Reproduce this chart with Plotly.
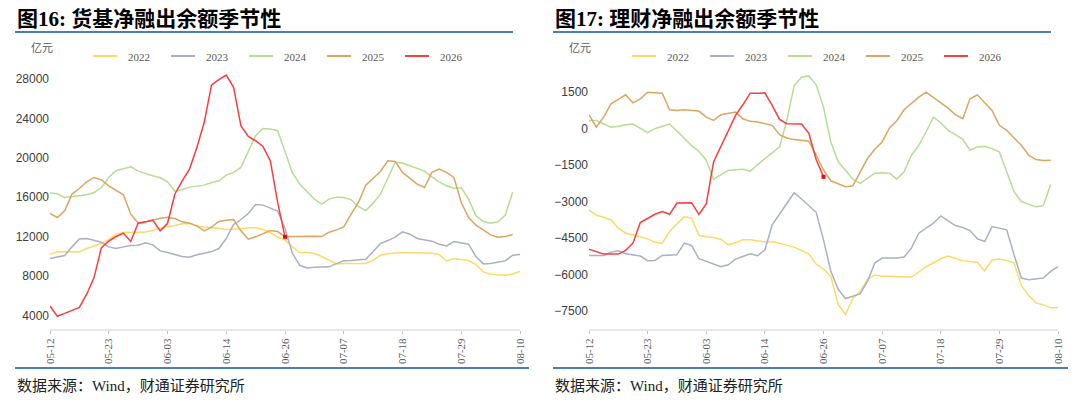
import plotly.graph_objects as go

# ---------------- data ----------------
tick_labels = ["05-12", "05-23", "06-03", "06-14", "06-26", "07-07", "07-18", "07-29", "08-10"]
tick_index = [0, 8, 16, 24, 32, 40, 48, 56, 64]
years = ["2022", "2023", "2024", "2025", "2026"]

# 货基净融出余额 (亿元)
mmf_2022 = [10200, 10440, 10470, 10470, 10440, 10780, 11050, 11290, 11690, 12240,
            12410, 12440, 12440, 12470, 12640, 12850, 13020, 13120, 13290, 13320,
            13080, 12980, 12920, 12850, 12710, 12710, 12780, 12880, 12880, 12710,
            12410, 11930, 11660, 10950, 10370, 10370, 10270, 9970, 9560, 9220,
            9250, 9250, 9250, 9250, 9590, 10100, 10240, 10310, 10370, 10370,
            10370, 10340, 10310, 10170, 9490, 9760, 9660, 9560, 9150, 8410,
            8170, 8100, 8070, 8200, 8440]
mmf_2023 = [9760, 9900, 10070, 10950, 11760, 11800, 11630, 11420, 10950, 10780,
            10950, 11080, 11120, 11360, 11150, 10540, 10370, 10200, 9970, 9900,
            10140, 10300, 10470, 10780, 11800, 13220, 13730, 14340, 15250, 15190,
            14920, 14580, 12850, 10300, 9080, 8810, 8880, 8880, 8920, 9250,
            9530, 9560, 9630, 9700, 10470, 11290, 11590, 11930, 12470, 12240,
            11800, 11690, 11530, 11220, 11050, 11490, 11390, 11220, 9970, 9220,
            9250, 9360, 9530, 10100, 10170]
mmf_2024 = [16410, 16340, 15970, 16030, 16140, 16240, 16470, 16980, 18000, 18680,
            18920, 19090, 18640, 18370, 18170, 17970, 17560, 16610, 16750, 17020,
            17120, 17220, 17490, 17660, 18240, 18510, 19020, 20710, 22240, 22980,
            22920, 22750, 20540, 18510, 17320, 16540, 15800, 15290, 15800, 16000,
            15970, 15730, 15050, 14640, 15390, 16300, 17830, 19530, 19460, 19190,
            18950, 18640, 18070, 17560, 17150, 16880, 16950, 15800, 14100, 13530,
            13360, 13490, 14170, 16500]
mmf_2025 = [14340, 13930, 14610, 16310, 16880, 17560, 18000, 17760, 17150, 16680,
            16240, 14270, 13360, 13490, 13700, 13860, 13970, 13830, 13490, 13360,
            13080, 12580, 12950, 13530, 13660, 13730, 12580, 11730, 11970, 12310,
            12610, 12510, 12000, 12000, 12030, 12070, 12030, 12000, 12440, 12680,
            12980, 14270, 15460, 17220, 17900, 18610, 19700, 19630, 18510, 17930,
            17320, 16980, 18510, 18850, 18510, 18000, 15460, 13930, 13150, 12680,
            12170, 11930, 12000, 12200]
mmf_2026 = [4950, 3900, 4200, 4510, 4810, 6140, 7830, 10880, 11530, 12000,
            12340, 11500, 13360, 13490, 13660, 12580, 13320, 16300, 17660, 18850,
            21050, 23600, 27400, 27930, 28400, 27150, 23250, 22170, 21730, 21150,
            19700, 15460, 11970]

# 理财净融出余额 (亿元)
wm_2022 = [-3349, -3568, -3650, -3759, -4101, -4306, -4374, -4443, -4539, -4675,
           -4716, -4238, -3937, -3623, -3691, -4402, -4456, -4484, -4552, -4785,
           -4703, -4580, -4580, -4621, -4662, -4648, -4716, -4798, -4880, -5017,
           -5167, -5577, -5782, -6083, -7245, -7655, -6999, -6698, -6220, -6028,
           -6083, -6083, -6097, -6097, -6110, -5905, -5687, -5523, -5359, -5249,
           -5331, -5441, -5468, -5509, -5851, -5413, -5372, -5427, -5523, -6466,
           -6876, -7177, -7259, -7382, -7382]
wm_2023 = [-5222, -5222, -5222, -5085, -5031, -5154, -5195, -5249, -5441, -5427,
           -5222, -5208, -5195, -4716, -4812, -5359, -5468, -5550, -5687, -5605,
           -5372, -5263, -5154, -5236, -4990, -3964, -3527, -3117, -2638, -2898,
           -3171, -3445, -4580, -5878, -6616, -6999, -6903, -6808, -6288, -5536,
           -5331, -5331, -5331, -5290, -4921, -4306, -4101, -3896, -3595, -3800,
           -3992, -4074, -4197, -4539, -4648, -4033, -4101, -4169, -5195, -6152,
           -6220, -6193, -6152, -5878, -5687]
wm_2024 = [342, 342, 191, 55, 96, 164, 191, 27, -164, 0,
           109, 191, -96, -410, -697, -930, -1299, -2078, -1887, -1722,
           -1695, -1668, -1750, -1476, -1230, -998, -752, 342, 1777, 2119,
           2174, 1804, 889, -547, -1367, -1709, -2078, -2256, -2051, -1832,
           -1818, -1832, -2078, -1777, -1094, -684, -137, 478, 246, -68,
           -246, -437, -889, -752, -725, -820, -957, -1777, -2597, -3007,
           -3117, -3212, -3171, -2300]
wm_2025 = [574, 68, 478, 1025, 1203, 1394, 1066, 1230, 1504, 1476,
           1463, 779, 752, 779, 752, 725, 478, 342, 574, 643,
           684, 410, 301, 273, 205, 137, -246, -383, -451, -492,
           -519, -1094, -1703, -2146, -2269, -2392, -2351, -1777, -1230, -848,
           -547, 27, 328, 779, 1025, 1299, 1504, 1285, 1066, 848,
           574, 410, 1230, 1394, 1066, 752, 137, -68, -383, -684,
           -1094, -1271, -1312, -1299]
wm_2026 = [-4962, -5058, -5167, -5167, -5167, -5017, -4716, -3869, -3691, -3527,
           -3418, -3527, -3062, -3048, -3048, -3527, -3103, -1367, -711, -68,
           547, 984, 1463, 1463, 1476, 957, 383, 205, 205, 191,
           -191, -1271, -1982]

left_series = [mmf_2022, mmf_2023, mmf_2024, mmf_2025, mmf_2026]
right_series = [wm_2022, wm_2023, wm_2024, wm_2025, wm_2026]

# ---------------- style ----------------
colors = ["#FFD966", "#A9B1C2", "#B6DD92", "#DBA660", "#FF3B3B"]
serif = "Liberation Serif, Times New Roman, Noto Sans CJK SC"
sans = "Liberation Sans, Arial, sans-serif"
blue = "#4A7EBB"

fig = go.Figure()

for k, (yr, col) in enumerate(zip(years, colors)):
    ys = left_series[k]
    fig.add_trace(go.Scatter(
        x=list(range(len(ys))), y=ys, mode="lines", name=yr,
        line=dict(color=col, width=1.5), xaxis="x", yaxis="y",
        showlegend=False, hoverinfo="skip"))
for k, (yr, col) in enumerate(zip(years, colors)):
    ys = right_series[k]
    fig.add_trace(go.Scatter(
        x=list(range(len(ys))), y=ys, mode="lines", name=yr,
        line=dict(color=col, width=1.5), xaxis="x2", yaxis="y2",
        showlegend=False, hoverinfo="skip"))

# end-point markers of 2026
fig.add_trace(go.Scatter(x=[len(mmf_2026) - 1], y=[mmf_2026[-1]], mode="markers",
                         marker=dict(color="#FF0000", size=4, symbol="square"),
                         xaxis="x", yaxis="y", showlegend=False, hoverinfo="skip"))
fig.add_trace(go.Scatter(x=[len(wm_2026) - 1], y=[wm_2026[-1]], mode="markers",
                         marker=dict(color="#FF0000", size=4, symbol="square"),
                         xaxis="x2", yaxis="y2", showlegend=False, hoverinfo="skip"))

W, H = 1080, 402
def px(x):
    return x / W
def py(y):
    return 1 - y / H

xcommon = dict(
    range=[0, 64], tickmode="array", tickvals=tick_index, ticktext=tick_labels,
    tickangle=-90, tickfont=dict(family=serif, size=11, color="#595959"),
    showgrid=False, zeroline=False, showline=True, linecolor="#E8E8E8", linewidth=2,
    ticks="outside", ticklen=3, tickcolor="#BFBFBF", tickwidth=1,
    fixedrange=True, automargin=False,
)
ycommon = dict(
    showgrid=False, zeroline=False, showline=False, ticks="", tickformat="d",
    tickfont=dict(family=sans, size=12, color="#404040"), fixedrange=True,
    automargin=False,
)

fig.update_layout(
    width=W, height=H, margin=dict(l=0, r=0, t=0, b=0, autoexpand=False),
    paper_bgcolor="white", plot_bgcolor="white", showlegend=False,
    xaxis=dict(domain=[px(50), px(520)], anchor="y", **xcommon),
    yaxis=dict(domain=[py(329), py(62)], anchor="x", range=[2608, 29727],
               tickvals=[4000, 8000, 12000, 16000, 20000, 24000, 28000], **ycommon),
    xaxis2=dict(domain=[px(589), px(1058)], anchor="y2", **xcommon),
    yaxis2=dict(domain=[py(329), py(62)], anchor="x2", range=[-8253, 2747],
                tickvals=[-7500, -6000, -4500, -3000, -1500, 0, 1500], **ycommon),
)

annotations = [
    dict(text="<b>图16: 货基净融出余额季节性</b>", x=px(15), y=py(19), xanchor="left",
         yanchor="middle", font=dict(family=serif, size=21, color="#000000")),
    dict(text="<b>图17: 理财净融出余额季节性</b>", x=px(553), y=py(19), xanchor="left",
         yanchor="middle", font=dict(family=serif, size=21, color="#000000")),
    dict(text="亿元", x=px(29), y=py(48), xanchor="left", yanchor="middle",
         font=dict(family=serif, size=11, color="#595959")),
    dict(text="亿元", x=px(567), y=py(48), xanchor="left", yanchor="middle",
         font=dict(family=serif, size=11, color="#595959")),
    dict(text="数据来源：Wind，财通证券研究所", x=px(15), y=py(386), xanchor="left",
         yanchor="middle", font=dict(family=serif, size=15, color="#222222")),
    dict(text="数据来源：Wind，财通证券研究所", x=px(553), y=py(386), xanchor="left",
         yanchor="middle", font=dict(family=serif, size=15, color="#222222")),
]
shapes = [
    dict(type="line", x0=px(15), x1=px(513), y0=py(32), y1=py(32)),
    dict(type="line", x0=px(553), x1=px(1051), y0=py(32), y1=py(32)),
    dict(type="line", x0=px(15), x1=px(529), y0=py(368), y1=py(368)),
    dict(type="line", x0=px(553), x1=px(1068), y0=py(368), y1=py(368)),
]
for s in shapes:
    s.update(xref="paper", yref="paper", line=dict(color=blue, width=2))

# manual legends (one per panel)
for start in (93, 632):
    for k, (yr, col) in enumerate(zip(years, colors)):
        x0 = start + 78 * k
        shapes.append(dict(type="line", xref="paper", yref="paper",
                           x0=px(x0), x1=px(x0 + 24), y0=py(56), y1=py(56),
                           line=dict(color=col, width=2)))
        annotations.append(dict(text=yr, x=px(x0 + 33), y=py(56.5), xanchor="left",
                                yanchor="middle",
                                font=dict(family=serif, size=11, color="#595959")))

for a in annotations:
    a.update(xref="paper", yref="paper", showarrow=False)
fig.update_layout(annotations=annotations, shapes=shapes)

fig.write_html("out.html")
